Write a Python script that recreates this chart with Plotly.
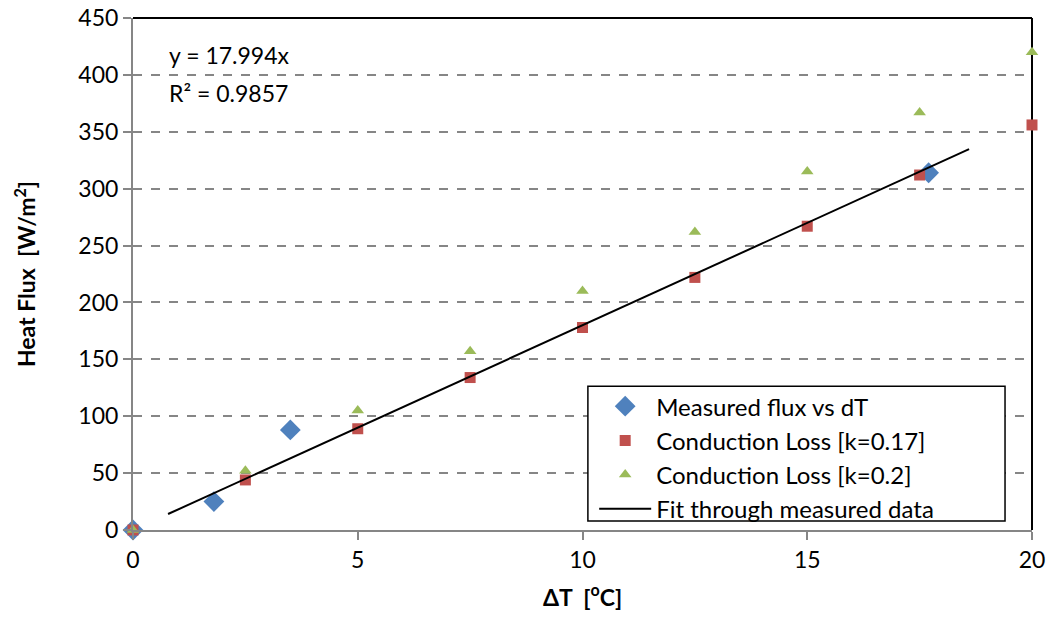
import plotly.graph_objects as go

# Data
measured_x = [0, 1.8, 3.5, 17.7]
measured_y = [0, 25, 88, 314]

cond_x = [0, 2.5, 5, 7.5, 10, 12.5, 15, 17.5, 20]
cond_k017 = [0, 44, 89, 134, 178, 222, 267, 312, 356]
cond_k02 = [0, 52, 105, 157, 210, 262, 315, 367, 420]

fit_slope = 17.994
fit_r2 = 0.9857
fit_x = [0.78, 18.6]
fit_y = [fit_slope * v for v in fit_x]

x_ticks = [0, 5, 10, 15, 20]
y_ticks = [0, 50, 100, 150, 200, 250, 300, 350, 400, 450]

FONT = "Lato"

fig = go.Figure()
fig.add_trace(go.Scatter(
    x=measured_x, y=measured_y, mode="markers", name="Measured flux vs dT",
    marker=dict(symbol="diamond", size=16, color="#4F81BD"), cliponaxis=False))
fig.add_trace(go.Scatter(
    x=cond_x, y=cond_k017, mode="markers", name="Conduction Loss [k=0.17]",
    marker=dict(symbol="square", size=11, color="#C0504D"), cliponaxis=False))
fig.add_trace(go.Scatter(
    x=cond_x, y=cond_k02, mode="markers", name="Conduction Loss [k=0.2]",
    marker=dict(symbol="triangle-up", size=11, color="#9BBB59"), cliponaxis=False))
fig.add_trace(go.Scatter(
    x=fit_x, y=fit_y, mode="lines", name="Fit through measured data",
    line=dict(color="black", width=2)))

# top and right plot-area border (black)
fig.add_shape(type="line", xref="x domain", yref="y domain", x0=0, x1=1, y0=1, y1=1,
              line=dict(color="black", width=2), layer="below")
fig.add_shape(type="line", xref="x domain", yref="y domain", x0=1, x1=1, y0=0, y1=1,
              line=dict(color="black", width=2), layer="below")
# legend box
fig.add_shape(type="rect", xref="x domain", yref="y domain", x0=0.506, x1=0.970,
              y0=0.0176, y1=0.281, line=dict(color="black", width=1.5),
              fillcolor="white", layer="above")

fig.add_annotation(xref="x domain", yref="y domain", x=0.038, y=0.928,
                   text="y = 17.994x", showarrow=False, xanchor="left", yanchor="middle",
                   font=dict(family=FONT, size=23, color="black"))
fig.add_annotation(xref="x domain", yref="y domain", x=0.038, y=0.854,
                   text="R² = 0.9857", showarrow=False, xanchor="left", yanchor="middle",
                   font=dict(family=FONT, size=23, color="black"))

fig.update_layout(
    width=1052, height=636,
    margin=dict(l=133, r=20, t=18, b=106),
    paper_bgcolor="white", plot_bgcolor="white",
    font=dict(family=FONT, size=23, color="black"),
    showlegend=True,
    legend=dict(x=0.513, y=0.285, xanchor="left", yanchor="top",
                bgcolor="rgba(0,0,0,0)", borderwidth=0,
                font=dict(family=FONT, size=24), tracegroupgap=0, itemwidth=52),
)
fig.update_xaxes(
    range=[0, 20], tickvals=x_ticks, ticktext=[str(v) for v in x_ticks],
    automargin=False, ticklabeloverflow="allow",
    showgrid=False, zeroline=False, showline=True, linecolor="#868686", linewidth=2,
    ticks="outside", ticklen=8, tickcolor="#868686", tickwidth=2,
    tickfont=dict(family=FONT, size=23),
    title=dict(text="<b>ΔT  [<sup>o</sup>C]</b>", font=dict(family=FONT, size=23), standoff=18))
fig.update_yaxes(
    range=[0, 450], tickvals=y_ticks, ticktext=[str(v) for v in y_ticks],
    automargin=False, ticklabeloverflow="allow",
    showgrid=True, gridcolor="#868686", griddash="dash", gridwidth=1.5,
    zeroline=False, showline=True, linecolor="#868686", linewidth=2,
    ticks="outside", ticklen=8, tickcolor="#868686", tickwidth=2,
    tickfont=dict(family=FONT, size=23),
    title=dict(text="<b>Heat Flux  [W/m<sup>2</sup>]</b>", font=dict(family=FONT, size=23), standoff=36))

fig.write_html("out.html",
               config={"displayModeBar": False},
               post_script="document.body.style.margin='0';document.body.style.overflow='hidden';")
